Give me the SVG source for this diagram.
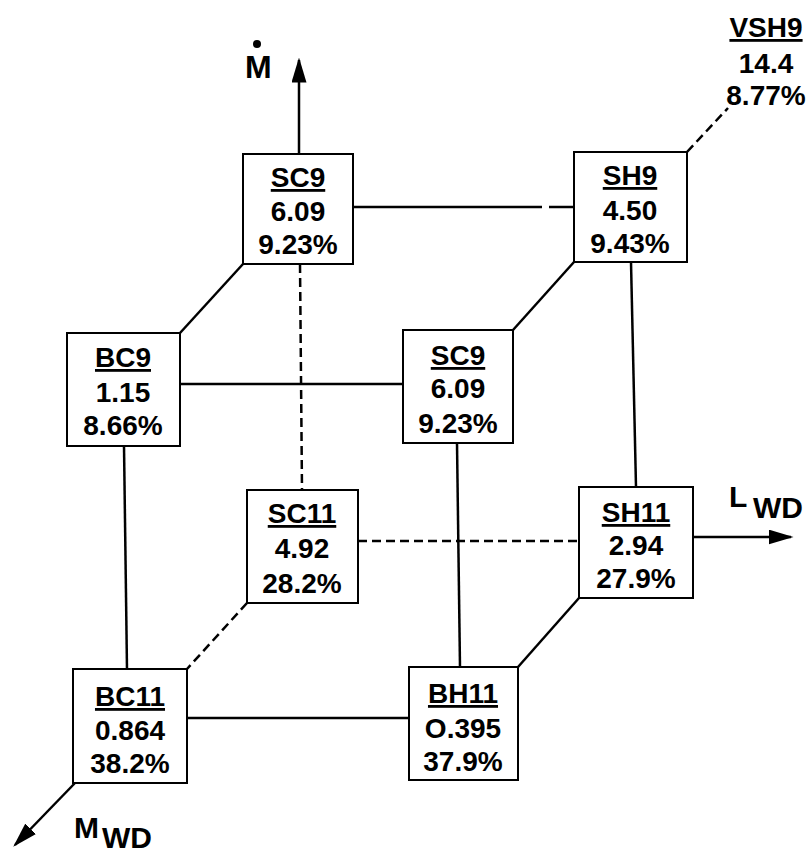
<svg xmlns="http://www.w3.org/2000/svg" width="808" height="855" viewBox="0 0 808 855">
<style>
.box{fill:#fff;stroke:#000;stroke-width:2}
.t{font-family:"Liberation Sans",Arial,sans-serif;font-weight:bold;font-size:28px;text-anchor:middle;fill:#000}
.u{text-decoration:underline}
.c{stroke:#000;stroke-width:2.5;fill:none}
.d{stroke:#000;stroke-width:2.5;fill:none;stroke-dasharray:9 5}
.ax{font-family:"Liberation Sans",Arial,sans-serif;font-weight:bold;fill:#000}
</style>
<defs>
<marker id="ah" markerWidth="10" markerHeight="6" refX="9" refY="3" orient="auto" markerUnits="strokeWidth">
<path d="M0,0 L10,3 L0,6 Z" fill="#000"/>
</marker>
</defs>
<g id="connectors">
<line class="c" x1="299" y1="154" x2="299" y2="60" marker-end="url(#ah)"/>
<line class="c" x1="353" y1="207" x2="542" y2="207"/>
<line class="c" x1="549" y1="207" x2="574" y2="207"/>
<line class="d" x1="687" y1="152" x2="728" y2="108"/>
<line class="c" x1="180" y1="333" x2="243" y2="264"/>
<line class="c" x1="513" y1="330" x2="574" y2="262"/>
<line class="c" x1="180" y1="384" x2="403" y2="384"/>
<line class="d" x1="300" y1="264" x2="302" y2="490"/>
<line class="c" x1="124" y1="446" x2="127" y2="669"/>
<line class="c" x1="457" y1="443" x2="460" y2="667"/>
<line class="c" x1="631" y1="262" x2="636" y2="487"/>
<line class="d" x1="358" y1="541" x2="579" y2="541"/>
<line class="c" x1="693" y1="537" x2="791" y2="537" marker-end="url(#ah)"/>
<line class="d" x1="247" y1="603" x2="187" y2="669"/>
<line class="c" x1="518" y1="667" x2="579" y2="598"/>
<line class="c" x1="187" y1="718" x2="409" y2="718"/>
<line class="c" x1="75" y1="783" x2="15" y2="845" marker-end="url(#ah)"/>
</g>
<g id="SC9_top">
<rect class="box" x="243" y="154" width="110" height="110"/>
<text class="t u" x="298" y="187">SC9</text>
<text class="t" x="298" y="221">6.09</text>
<text class="t" x="298" y="254">9.23%</text>
</g>
<g id="SH9">
<rect class="box" x="574" y="152" width="113" height="110"/>
<text class="t u" x="630" y="185">SH9</text>
<text class="t" x="630" y="220">4.50</text>
<text class="t" x="630" y="253">9.43%</text>
</g>
<g id="VSH9">
<text class="t u" x="766" y="37">VSH9</text>
<text class="t" x="766" y="73">14.4</text>
<text class="t" x="766" y="105">8.77%</text>
</g>
<g id="BC9">
<rect class="box" x="67" y="333" width="113" height="113"/>
<text class="t u" x="123" y="367">BC9</text>
<text class="t" x="123" y="402">1.15</text>
<text class="t" x="123" y="435">8.66%</text>
</g>
<g id="SC9_mid">
<rect class="box" x="403" y="330" width="110" height="113"/>
<text class="t u" x="458" y="365">SC9</text>
<text class="t" x="458" y="398">6.09</text>
<text class="t" x="458" y="433">9.23%</text>
</g>
<g id="SC11">
<rect class="box" x="247" y="490" width="111" height="113"/>
<text class="t u" x="302" y="523">SC11</text>
<text class="t" x="302" y="558">4.92</text>
<text class="t" x="302" y="593">28.2%</text>
</g>
<g id="SH11">
<rect class="box" x="579" y="487" width="114" height="111"/>
<text class="t u" x="636" y="522">SH11</text>
<text class="t" x="636" y="555">2.94</text>
<text class="t" x="636" y="588">27.9%</text>
</g>
<g id="BC11">
<rect class="box" x="73" y="669" width="114" height="114"/>
<text class="t u" x="130" y="706">BC11</text>
<text class="t" x="130" y="740">0.864</text>
<text class="t" x="130" y="773">38.2%</text>
</g>
<g id="BH11">
<rect class="box" x="409" y="667" width="109" height="113"/>
<text class="t u" x="463" y="703">BH11</text>
<text class="t" x="463" y="738">O.395</text>
<text class="t" x="463" y="771">37.9%</text>
</g>
<g id="axis_labels">
<text class="ax" x="245" y="78" font-size="32">M</text>
<circle cx="257" cy="44" r="4" fill="#000"/>
<text class="ax" x="729" y="507" font-size="30">L</text>
<text class="ax" x="753" y="518" font-size="30">WD</text>
<text class="ax" x="74" y="838" font-size="30">M</text>
<text class="ax" x="102" y="848" font-size="30">WD</text>
</g>
</svg>
